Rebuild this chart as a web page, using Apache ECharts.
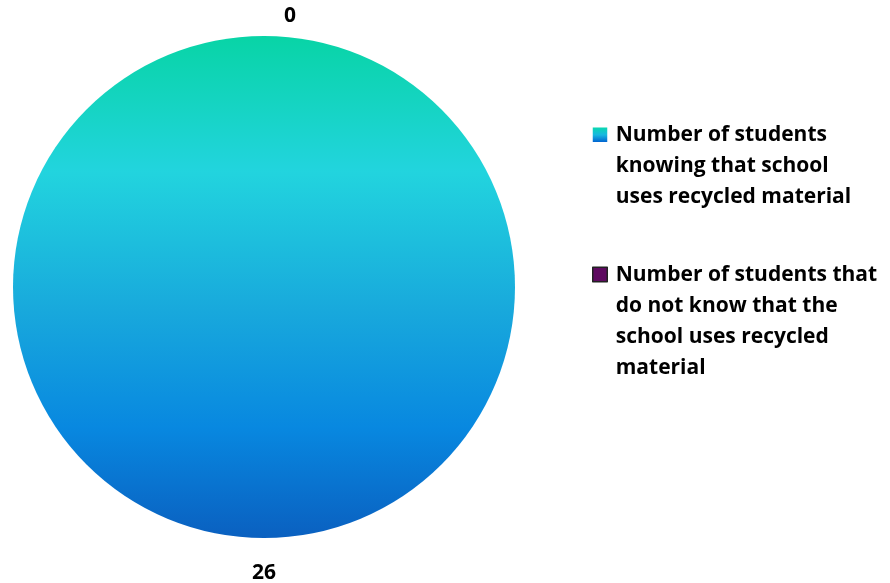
<!DOCTYPE html>
<html>
<head>
<meta charset="utf-8">
<script src="https://cdn.jsdelivr.net/npm/echarts@6/dist/echarts.min.js"></script>
<style>
html,body{margin:0;padding:0;background:#fff;}
#chart{width:890px;height:583px;}
</style>
</head>
<body>
<div id="chart"></div>
<script>
const categories = [
  "Number of students knowing that school uses recycled material",
  "Number of students that do not know that the school uses recycled material"
];
const legendLines = [
  "Number of students\nknowing that school\nuses recycled material\n ",
  "Number of students that\ndo not know that the\nschool uses recycled\nmaterial"
];
const values = [26, 0];

const FONT = '"Open Sans"';
const pieGradient = {
  type: 'linear', x: 0, y: 0, x2: 0, y2: 1,
  colorStops: [
    { offset: 0, color: '#08D4A6' },
    { offset: 0.27, color: '#22D4DE' },
    { offset: 0.55, color: '#18A8DC' },
    { offset: 0.78, color: '#0888E0' },
    { offset: 1, color: '#0A60C0' }
  ]
};
const iconGradient = {
  type: 'linear', x: 0, y: 0, x2: 0, y2: 1,
  colorStops: [
    { offset: 0, color: '#0AD8B0' },
    { offset: 0.06, color: '#0AD8B0' },
    { offset: 0.12, color: '#18B8E0' },
    { offset: 0.18, color: '#0060D0' },
    { offset: 1, color: '#0060D0' }
  ]
};
const purple = '#5E0A60';
const iconPath = 'path://M0,0L0,0M18,0L18,0M0,7.5L14.5,7.5L14.5,22L0,22ZM0,124L0,124';

const chart = echarts.init(document.getElementById('chart'), null, { renderer: 'canvas' });
chart.setOption({
  animation: false,
  legend: {
    orient: 'vertical',
    left: 592,
    top: 120,
    padding: 0,
    itemGap: 15,
    itemWidth: 18,
    itemHeight: 124,
    selectedMode: false,
    formatter: function (name) { return legendLines[categories.indexOf(name)]; },
    textStyle: {
      fontFamily: FONT, fontWeight: 'bold', fontSize: 21, lineHeight: 31, color: '#000'
    },
    data: [
      { name: categories[0], icon: iconPath, itemStyle: { color: iconGradient, borderWidth: 0 } },
      { name: categories[1], icon: iconPath, itemStyle: { color: purple, borderColor: '#222', borderWidth: 1.5 } }
    ]
  },
  series: [{
    type: 'pie',
    center: [264, 287],
    radius: [0, 251],
    startAngle: 90,
    clockwise: true,
    avoidLabelOverlap: false,
    minAngle: 0,
    label: {
      show: true,
      position: 'outside',
      formatter: '{c}',
      fontFamily: FONT, fontWeight: 'bold', fontSize: 21, color: '#000'
    },
    labelLine: { show: false, length: 34, length2: 0 },
    labelLayout: function (params) {
      return {
        align: 'center',
        verticalAlign: 'middle',
        dx: params.dataIndex === 1 ? 31 : -5,
        dy: params.dataIndex === 1 ? 14 : 1
      };
    },
    itemStyle: { borderWidth: 0 },
    emphasis: { disabled: true },
    data: [
      { name: categories[0], value: values[0], itemStyle: { color: pieGradient } },
      { name: categories[1], value: values[1], itemStyle: { color: purple } }
    ]
  }]
});
</script>
</body>
</html>
